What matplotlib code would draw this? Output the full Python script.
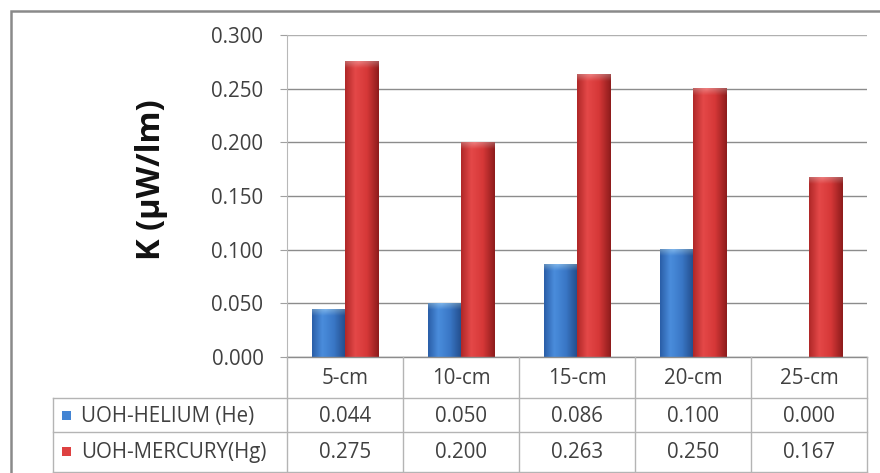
import numpy as np
import matplotlib
matplotlib.use("Agg")
import matplotlib.pyplot as plt
from matplotlib.colors import LinearSegmentedColormap, to_rgb
from matplotlib.patches import Rectangle
from matplotlib.lines import Line2D
from matplotlib.transforms import blended_transform_factory

# ---- data ----
categories = ["5-cm", "10-cm", "15-cm", "20-cm", "25-cm"]
series_names = ["UOH-HELIUM (He)", "UOH-MERCURY(Hg)"]
helium = [0.044, 0.050, 0.086, 0.100, 0.000]
mercury = [0.275, 0.200, 0.263, 0.250, 0.167]
y_ticks = [0.000, 0.050, 0.100, 0.150, 0.200, 0.250, 0.300]
y_label = "K (\u03bcW/lm)"

plt.rcParams["font.family"] = ["Open Sans", "DejaVu Sans"]

W, H = 880, 473
fig = plt.figure(figsize=(W / 100, H / 100), dpi=100)
fig.patch.set_facecolor("white")


def fx(px):
    return px / W


def fy(py):
    return 1 - py / H


FS = 14.8
plot_l, plot_r, plot_t, plot_b = 287, 867, 35, 357
ax = fig.add_axes([fx(plot_l), fy(plot_b), fx(plot_r - plot_l), (plot_b - plot_t) / H])
ax.set_xlim(-0.5, len(categories) - 0.5)
ax.set_ylim(0, 0.3)
ax.set_facecolor("none")

for s in ["top", "right", "bottom"]:
    ax.spines[s].set_visible(False)
ax.spines["left"].set_color("#b8b8b8")
ax.spines["left"].set_linewidth(0.8)

ax.set_yticks(y_ticks)
ax.set_yticklabels([f"{v:.3f}" for v in y_ticks], fontsize=FS, color="#404040")
ax.tick_params(axis="y", length=5, width=0.8, color="#a0a0a0", pad=12)
ax.set_xticks([])
ax.yaxis.grid(True, color="#8c8c8c", linewidth=1.0)
ax.get_ygridlines()[-1].set_color("#b0b0b0")
ax.set_axisbelow(True)

# ---- shaded columns ----
bar_w = 0.285
cmaps = [
    LinearSegmentedColormap.from_list(
        "he", [(0, "#2a5ea8"), (0.3, "#4a8ddc"), (0.65, "#3a77c6"), (1, "#224c8a")]),
    LinearSegmentedColormap.from_list(
        "hg", [(0, "#b02828"), (0.3, "#e44848"), (0.65, "#d63838"), (1, "#8e1c1c")]),
]
caps = ["#8cc0f0", "#f08a8a"]
xs = np.arange(len(categories))
cap_h = 0.006

for k, vals in enumerate([helium, mercury]):
    offset = (k - 0.5) * bar_w
    bars = ax.bar(xs + offset, vals, width=bar_w, color=cmaps[k](0.5),
                  edgecolor="none", zorder=2)
    for rect, v in zip(bars, vals):
        if v <= 0:
            continue
        x0 = rect.get_x()
        nx, ny = 60, 200
        gx = np.linspace(0, 1, nx)
        rgb = cmaps[k](gx)[:, :3]
        img = np.repeat(rgb[None, :, :], ny, axis=0)
        yy = np.linspace(v, 0, ny)
        f = np.clip((yy - (v - cap_h)) / cap_h, 0, 1)[:, None, None]
        cap_rgb = np.array(to_rgb(caps[k]))
        # lighter rounded top
        shade = 1 - 0.5 * np.abs(gx - 0.4)
        cap_full = cap_rgb[None, None, :] * shade[None, :, None]
        img = img * (1 - f * 0.8) + cap_full * (f * 0.8)
        ax.imshow(np.clip(img, 0, 1), extent=[x0, x0 + bar_w, 0, v],
                  aspect="auto", zorder=3, interpolation="bilinear")
ax.set_xlim(-0.5, len(categories) - 0.5)
ax.set_ylim(0, 0.3)

ax.set_ylabel(y_label, fontsize=23.5, fontweight="bold", color="#111111")
ax.yaxis.set_label_coords(fx(152 - plot_l) / fx(plot_r - plot_l),
                          (plot_b - 180) / (plot_b - plot_t))
ax.yaxis.label.set_va("center")

# ---- data table under the plot ----
bt = blended_transform_factory(ax.transData, fig.transFigure)
line_c = "#b4b4b4"
rows_y = [357, 398, 432, 472]
table_left = 53

# horizontal rules
fig.add_artist(Line2D([fx(plot_l), fx(plot_r)], [fy(357), fy(357)],
                      color="#8c8c8c", lw=1.0, transform=fig.transFigure))
for y in rows_y[1:]:
    fig.add_artist(Line2D([fx(table_left), fx(plot_r)], [fy(y), fy(y)],
                          color=line_c, lw=1.0, transform=fig.transFigure))
# vertical rules
for b in np.arange(len(categories) + 1) - 0.5:
    fig.add_artist(Line2D([b, b], [fy(357), fy(472)], color=line_c, lw=1.0,
                          transform=bt))
fig.add_artist(Line2D([fx(table_left)] * 2, [fy(398), fy(472)], color=line_c,
                      lw=1.0, transform=fig.transFigure))

row_centers = [378, 416, 452]
tc = "#404040"
for i, c in enumerate(categories):
    fig.text(i, fy(row_centers[0]), c, transform=bt, ha="center", va="center",
             fontsize=FS, color=tc)
    fig.text(i, fy(row_centers[1]), f"{helium[i]:.3f}", transform=bt,
             ha="center", va="center", fontsize=FS, color=tc)
    fig.text(i, fy(row_centers[2]), f"{mercury[i]:.3f}", transform=bt,
             ha="center", va="center", fontsize=FS, color=tc)

key_cols = [cmaps[0](0.45), cmaps[1](0.45)]
for r, name in enumerate(series_names):
    yc = row_centers[r + 1]
    fig.add_artist(Rectangle((fx(62), fy(yc + 4)), fx(9), 9 / H,
                             facecolor=key_cols[r], edgecolor="none",
                             transform=fig.transFigure))
    fig.text(fx(81), fy(yc), name, ha="left", va="center", fontsize=FS,
             color=tc)

# outer chart frame
fig.add_artist(Rectangle((fx(11), fy(H + 20)), fx(W + 20), (H + 9) / H,
                         facecolor="none", edgecolor="#8a8a8a", lw=1.8,
                         transform=fig.transFigure))

fig.savefig("out.png", dpi=100, facecolor="white")
